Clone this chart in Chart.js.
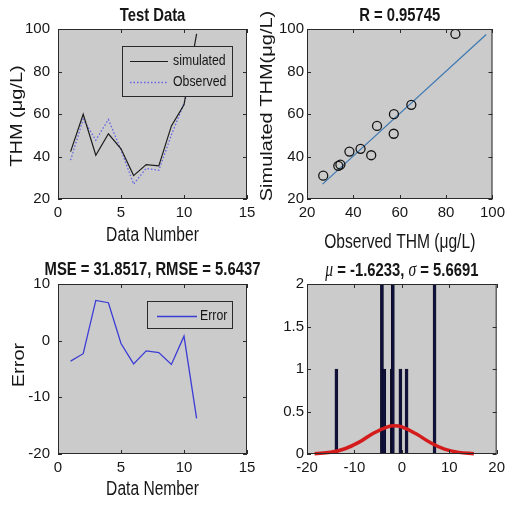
<!DOCTYPE html>
<html>
<head>
<meta charset="utf-8">
<script src="https://cdn.jsdelivr.net/npm/chart.js@4.4.1/dist/chart.umd.min.js"></script>
<style>
html, body { margin: 0; padding: 0; background: #fff; }
#wrap { position: relative; width: 510px; height: 510px; overflow: hidden; }
#wrap canvas { position: absolute; left: 0; top: 0; }
</style>
</head>
<body>
<div id="wrap">
	<canvas id="testData" width="510" height="510"></canvas>
	<canvas id="regression" width="510" height="510"></canvas>
	<canvas id="errors" width="510" height="510"></canvas>
	<canvas id="histogram" width="510" height="510"></canvas>
</div>
<script>
// values
const dataNumber = [1, 2, 3, 4, 5, 6, 7, 8, 9, 10, 11];
const simulatedTHM = [42.3, 59.9, 40.6, 50.7, 43.6, 31.0, 36.2, 35.6, 54.4, 64.3, 97.7];
const observedTHM = [38.3, 57.5, 47.7, 57.4, 43.1, 27.0, 34.4, 33.5, 50.2, 65.0, 84.0];
const errorValues = [-3.6, -2.3, 7.1, 6.7, -0.5, -4.1, -1.8, -2.1, -4.2, 0.8, -13.7];

// regression line (observed -> simulated)
const fitLineX = [26.7, 97.3];
const fitLineY = [27.0, 97.4];

// error histogram
const histCenters = [-13.8, -4.2, -3.7, -2.1, -1.9, -0.3, 1.0, 6.9];
const histCounts = [1, 2, 1, 1, 2, 1, 1, 2];

// fitted normal curve over the histogram
const normalX = [-18.4, -15, -12, -9, -6, -3, -1.6, 0, 3, 6, 9, 12, 15.2];
const normalY = [0.004, 0.02, 0.062, 0.14, 0.245, 0.32, 0.332, 0.318, 0.238, 0.135, 0.058, 0.019, 0.004];

const FONT = "'Liberation Sans', Arial, sans-serif";
const INK = '#161616';
const SQUISH = 0.78; // the original's labels are horizontally condensed
Chart.defaults.font.family = FONT;
Chart.defaults.color = INK;
Chart.defaults.animation = false;

const points = (xs, ys) => xs.map((x, i) => ({x: x, y: ys[i]}));

// gray axes box with inward ticks on all four sides (matlab look)
const framePlugin = {
	id: 'frame',
	beforeDatasetsDraw(chart) {
		const {ctx, chartArea: a} = chart;
		ctx.save();
		ctx.fillStyle = '#cbcbcb';
		ctx.fillRect(a.left, a.top, a.right - a.left, a.bottom - a.top);
		ctx.restore();
	},
	afterDraw(chart) {
		const {ctx, chartArea: a, scales} = chart;
		const len = 4;
		ctx.save();
		ctx.strokeStyle = '#2a2a2a';
		ctx.lineWidth = 1;
		ctx.strokeRect(a.left + 0.5, a.top + 0.5, a.right - a.left - 1, a.bottom - a.top - 1);
		ctx.beginPath();
		scales.x.ticks.forEach(t => {
			const px = Math.round(scales.x.getPixelForValue(t.value)) + 0.5;
			ctx.moveTo(px, a.bottom); ctx.lineTo(px, a.bottom - len);
			ctx.moveTo(px, a.top); ctx.lineTo(px, a.top + len);
		});
		scales.y.ticks.forEach(t => {
			const py = Math.round(scales.y.getPixelForValue(t.value)) + 0.5;
			ctx.moveTo(a.left, py); ctx.lineTo(a.left + len, py);
			ctx.moveTo(a.right, py); ctx.lineTo(a.right - len, py);
		});
		ctx.stroke();
		ctx.restore();
	}
};

// title (runs, so greek letters can be italic) and axis captions, condensed
const captions = {
	id: 'captions',
	afterDraw(chart, args, opts) {
		const {ctx, chartArea: a} = chart;
		const cx = (a.left + a.right) / 2;
		ctx.save();
		ctx.fillStyle = INK;
		ctx.textBaseline = 'alphabetic';
		if (opts.title) {
			let total = 0;
			opts.title.parts.forEach(p => { ctx.font = p.font; total += ctx.measureText(p.text).width; });
			ctx.save();
			ctx.translate(cx - total * SQUISH / 2, opts.title.y);
			ctx.scale(SQUISH, 1);
			let x = 0;
			opts.title.parts.forEach(p => {
				ctx.font = p.font;
				ctx.fillText(p.text, x, 0);
				x += ctx.measureText(p.text).width;
			});
			ctx.restore();
		}
		ctx.font = LABEL_FONT;
		ctx.textAlign = 'center';
		if (opts.xTitle) {
			ctx.save();
			ctx.translate(cx, opts.xTitle.y);
			ctx.scale(SQUISH, 1);
			ctx.fillText(opts.xTitle.text, 0, 0);
			ctx.restore();
		}
		if (opts.yTitle) {
			ctx.save();
			ctx.translate(opts.yTitle.x, opts.yTitle.y);
			ctx.rotate(-Math.PI / 2);
			ctx.scale(1, 0.85);
			ctx.textBaseline = 'middle';
			ctx.fillText(opts.yTitle.text, 0, 0);
			ctx.restore();
		}
		ctx.restore();
	}
};

// opaque legend box inside the axes
const boxLegend = {
	id: 'boxLegend',
	afterDatasetsDraw(chart, args, opts) {
		if (!opts.box) return;
		const {ctx} = chart;
		const [bx, by, bw, bh] = opts.box;
		ctx.save();
		ctx.fillStyle = '#cbcbcb';
		ctx.fillRect(bx, by, bw, bh);
		ctx.strokeStyle = '#2a2a2a';
		ctx.lineWidth = 1;
		ctx.strokeRect(bx + 0.5, by + 0.5, bw, bh);
		opts.rows.forEach(r => {
			const ds = chart.data.datasets[r.dataset];
			ctx.beginPath();
			ctx.strokeStyle = ds.borderColor;
			ctx.lineWidth = ds.borderWidth;
			ctx.setLineDash(ds.borderDash || []);
			ctx.moveTo(opts.lineX[0], r.y + 0.5);
			ctx.lineTo(opts.lineX[1], r.y + 0.5);
			ctx.stroke();
			ctx.setLineDash([]);
			ctx.save();
			ctx.translate(opts.textX, r.y);
			ctx.scale(0.82, 1);
			ctx.fillStyle = INK;
			ctx.font = LEGEND_FONT;
			ctx.textBaseline = 'middle';
			ctx.fillText(ds.label, 0, 0);
			ctx.restore();
		});
		ctx.restore();
	}
};

const TICK_FONT = {size: 15};
const LABEL_FONT = '20px ' + FONT;
const TITLE_FONT = 'bold 19px ' + FONT;
const GREEK_FONT = 'italic 20px "Liberation Serif", serif';
const LEGEND_FONT = '15px ' + FONT;

function axis(min, max, step, opts) {
	return {
		type: 'linear',
		min: min,
		max: max,
		offset: false,
		grid: {display: false, drawTicks: false},
		border: {display: false},
		ticks: {stepSize: step, font: TICK_FONT, padding: opts.pad, color: INK, callback: v => String(v)},
		afterFit: s => {
			if (opts.width) s.width = opts.width;
			if (opts.height) s.height = opts.height;
		}
	};
}

const common = {
	responsive: false,
	events: [],
	plugins: {legend: {display: false}, tooltip: {enabled: false}}
};

// top left: test data series
new Chart(document.getElementById('testData'), {
	type: 'line',
	data: {
		datasets: [
			{label: 'simulated', data: points(dataNumber, simulatedTHM), borderColor: '#1c1c1c', borderWidth: 1.2, pointRadius: 0, tension: 0},
			{label: 'Observed', data: points(dataNumber, observedTHM), borderColor: '#6464e4', borderWidth: 1.3, borderDash: [1.5, 2], pointRadius: 0, tension: 0}
		]
	},
	options: Object.assign({}, common, {
		layout: {padding: {left: 0, top: 29, right: 263, bottom: 255}},
		scales: {
			x: axis(0, 15, 5, {pad: 5, height: 56}),
			y: axis(20, 100, 20, {pad: 8, width: 58})
		},
		plugins: Object.assign({}, common.plugins, {
			captions: {
				title: {y: 21, parts: [{text: 'Test Data', font: TITLE_FONT}]},
				xTitle: {text: 'Data Number', y: 241},
				yTitle: {text: 'THM (μg/L)', x: 17, y: 116}
			},
			boxLegend: {box: [122, 46, 110, 50], lineX: [130, 168], textX: 173,
				rows: [{dataset: 0, y: 61}, {dataset: 1, y: 82}]}
		})
	}),
	plugins: [framePlugin, captions, boxLegend]
});

// top right: regression
new Chart(document.getElementById('regression'), {
	type: 'scatter',
	data: {
		datasets: [
			{label: 'data', data: points(observedTHM, simulatedTHM), pointStyle: 'circle', pointRadius: 4.5,
				borderColor: '#141414', backgroundColor: 'rgba(0,0,0,0)', pointBorderWidth: 1.3},
			{type: 'line', label: 'fit', data: points(fitLineX, fitLineY), borderColor: '#3c78b2', borderWidth: 1.2, pointRadius: 0}
		]
	},
	options: Object.assign({}, common, {
		layout: {padding: {left: 255, top: 29, right: 9, bottom: 255}},
		scales: {
			x: axis(20, 100, 20, {pad: 5, height: 56}),
			y: axis(20, 100, 20, {pad: 3, width: 52})
		},
		plugins: Object.assign({}, common.plugins, {
			captions: {
				title: {y: 21, parts: [{text: 'R = 0.95745', font: TITLE_FONT}]},
				xTitle: {text: 'Observed THM (μg/L)', y: 248},
				yTitle: {text: 'Simulated THM(μg/L)', x: 267, y: 106}
			}
		})
	}),
	plugins: [framePlugin, captions]
});

// bottom left: error per sample
new Chart(document.getElementById('errors'), {
	type: 'line',
	data: {
		datasets: [
			{label: 'Error', data: points(dataNumber, errorValues), borderColor: '#3c3cd6', borderWidth: 1.3, pointRadius: 0, tension: 0}
		]
	},
	options: Object.assign({}, common, {
		layout: {padding: {left: 0, top: 284, right: 263, bottom: 0}},
		scales: {
			x: axis(0, 15, 5, {pad: 5, height: 56}),
			y: axis(-20, 10, 10, {pad: 8, width: 58})
		},
		plugins: Object.assign({}, common.plugins, {
			captions: {
				title: {y: 275, parts: [{text: 'MSE = 31.8517, RMSE = 5.6437', font: TITLE_FONT}]},
				xTitle: {text: 'Data Nember', y: 495},
				yTitle: {text: 'Error', x: 19, y: 365}
			},
			boxLegend: {box: [147, 301, 85, 27], lineX: [157, 197], textX: 200,
				rows: [{dataset: 0, y: 316}]}
		})
	}),
	plugins: [framePlugin, captions, boxLegend]
});

// bottom right: error histogram with normal fit
new Chart(document.getElementById('histogram'), {
	type: 'bar',
	data: {
		datasets: [
			{type: 'line', label: 'normal', data: points(normalX, normalY), borderColor: '#d41c1c', borderWidth: 3.5,
				pointRadius: 0, tension: 0.4, clip: false},
			{label: 'count', data: points(histCenters, histCounts), backgroundColor: '#10103c', borderColor: '#050510',
				borderWidth: 0.5, barThickness: 3}
		]
	},
	options: Object.assign({}, common, {
		layout: {padding: {left: 255, top: 284, right: 12, bottom: 0}},
		scales: {
			x: axis(-20, 20, 10, {pad: 5, height: 56}),
			y: axis(0, 2, 0.5, {pad: 3, width: 52})
		},
		plugins: Object.assign({}, common.plugins, {
			captions: {
				title: {y: 276, parts: [
					{text: 'μ', font: GREEK_FONT},
					{text: ' = -1.6233, ', font: TITLE_FONT},
					{text: 'σ', font: GREEK_FONT},
					{text: ' = 5.6691', font: TITLE_FONT}
				]}
			}
		})
	}),
	plugins: [framePlugin, captions]
});
</script>
</body>
</html>
